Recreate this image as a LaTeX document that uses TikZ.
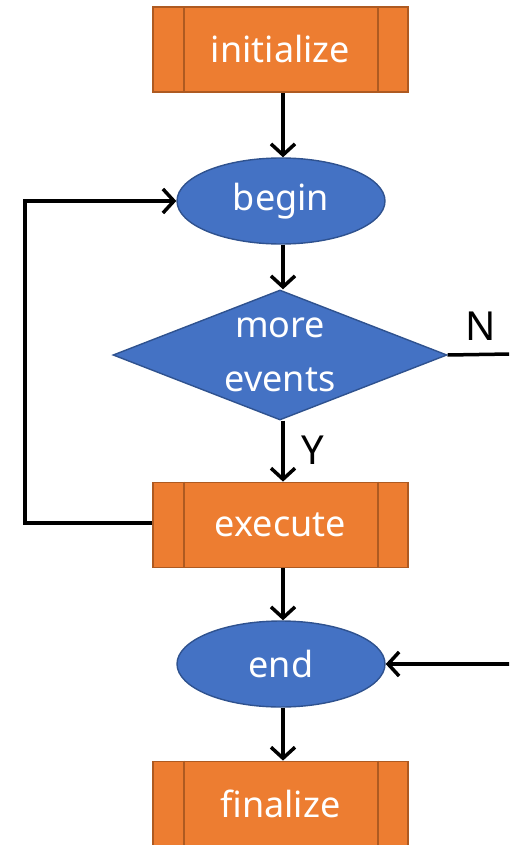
\documentclass[tikz,border=0pt]{standalone}
\usepackage{fontspec}
\setmainfont{Noto Sans}
\usetikzlibrary{shapes.geometric,arrows.meta}
\definecolor{procfill}{HTML}{ED7D31}
\definecolor{procline}{HTML}{AE5A21}
\definecolor{termfill}{HTML}{4472C4}
\definecolor{termline}{HTML}{2F528F}
\tikzset{
  x=1pt, y=-1pt,
  boxfont/.style={font=\fontsize{36}{48}\selectfont},
  procbox/.style={draw=procline, fill=procfill, line width=1.8pt, minimum width=255pt, minimum height=85pt, inner sep=0pt,
    text=white, boxfont},
  termbox/.style={ellipse, draw=termline, fill=termfill, line width=1.4pt, minimum width=208pt, minimum height=86pt, inner sep=0pt,
    text=white, boxfont},
  decbox/.style={diamond, draw=termline, fill=termfill, line width=1.4pt, aspect=2.57, minimum width=334pt, minimum height=130pt, inner sep=0pt,
    text=white, boxfont, align=center},
  flow/.style={draw=black, line width=3.5pt, -{Straight Barb[length=11pt,width=24pt,line width=3.5pt]}},
  plainline/.style={draw=black, line width=3.5pt},
  lbl/.style={text=black, font=\fontsize{40}{44}\selectfont, inner sep=0pt}
}
\newcommand{\sidebars}[1]{%
  \draw[procline, line width=1.8pt] ([xshift=32pt]#1.north west) -- ([xshift=32pt]#1.south west);
  \draw[procline, line width=1.8pt] ([xshift=-31pt]#1.north east) -- ([xshift=-31pt]#1.south east);}
\begin{document}
\begin{tikzpicture}
\useasboundingbox (0,0) rectangle (509,845);
\begin{scope}
\clip (0,0) rectangle (509,845);
\node[procbox] (init) at (280.5,49.5) {initialize};
\sidebars{init}
\node[termbox] (begin) at (281,201) {begin};
\node[decbox] (more) at (280,355) {\raisebox{2pt}{more}\\[4pt]events};
\node[procbox] (exec) at (280.5,525) {execute};
\sidebars{exec}
\node[termbox] (end) at (281,664) {end};
\node[procbox] (fin) at (280.5,804) {finalize};
\sidebars{fin}

\coordinate (loopA) at (25,523);
\coordinate (loopB) at (25,201);
\coordinate (nout) at (510,354);
\coordinate (endin) at (510,664);

\draw[flow] (init.south -| 283,0) -- (begin.north -| 283,0);
\draw[flow] (begin.south -| 283,0) -- (more.north -| 283,0);
\draw[flow] (more.south -| 283,0) -- (exec.north -| 283,0);
\draw[flow] (exec.south -| 283,0) -- (end.north -| 283,0);
\draw[flow] (end.south -| 283,0) -- (fin.north -| 283,0);
\draw[flow] (exec.west |- loopA) -- (loopA) -- (loopB) -- (begin.west);
\draw[plainline] (more.east) -- (nout);
\draw[flow] (endin) -- (end.east);
\node[lbl] (nlbl) at (481,326) {N};
\node[lbl] (ylbl) at (313,450) {Y};
\end{scope}
\end{tikzpicture}
\end{document}
